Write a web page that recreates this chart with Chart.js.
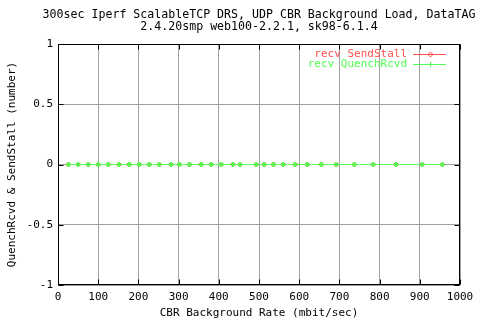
<!DOCTYPE html>
<html lang="en">
<head>
    <meta charset="UTF-8">
    <title>300sec Iperf ScalableTCP DRS - SendStall / QuenchRcvd</title>
    <script src="https://cdn.jsdelivr.net/npm/chart.js"></script>
    <style>
        body { margin: 0; background: #fff; }
        #wrap { width: 480px; height: 320px; }
    </style>
</head>
<body>
    <div id="wrap"><canvas id="myChart" width="480" height="320"></canvas></div>

    <script>
        // CBR background rate (mbit/sec) for each run
        const rates = [26, 50, 75, 100, 125, 152, 177, 202, 227, 252, 281, 302, 327, 356, 381, 406,
                       435, 453, 493, 513, 536, 560, 590, 620, 655, 692, 737, 784, 841, 906, 956];
        const sendStall = [0, 0, 0, 0, 0, 0, 0, 0, 0, 0, 0, 0, 0, 0, 0, 0,
                           0, 0, 0, 0, 0, 0, 0, 0, 0, 0, 0, 0, 0, 0, 0];
        const quenchRcvd = [0, 0, 0, 0, 0, 0, 0, 0, 0, 0, 0, 0, 0, 0, 0, 0,
                            0, 0, 0, 0, 0, 0, 0, 0, 0, 0, 0, 0, 0, 0, 0];
        const xTicks = [0, 100, 200, 300, 400, 500, 600, 700, 800, 900, 1000];
        const yTicks = [-1, -0.5, 0, 0.5, 1];

        const titleLines = ['300sec Iperf ScalableTCP DRS, UDP CBR Background Load, DataTAG',
                            '2.4.20smp web100-2.2.1, sk98-6.1.4'];

        const FONT = "'DejaVu Sans Mono', 'Liberation Mono', monospace";
        const RED = '#ff5050';
        const GREEN = '#50ff50';

        const toPoints = (xs, ys) => xs.map((x, i) => ({ x: x, y: ys[i] }));

        // gnuplot style: title over the plot, frame all round, inward ticks, legend top right
        const gnuplotFrame = {
            id: 'gnuplotFrame',
            afterDraw(chart) {
                const c = chart.ctx;
                const a = chart.chartArea;
                const L = Math.round(a.left) + 0.5, R = Math.round(a.right) - 0.5;
                const T = Math.round(a.top) + 0.5, B = Math.round(a.bottom) - 0.5;
                const tl = 5;
                c.save();

                c.fillStyle = '#000';
                c.font = '11.6px ' + FONT;
                c.textAlign = 'center';
                c.textBaseline = 'middle';
                titleLines.forEach((t, i) => c.fillText(t, (a.left + a.right) / 2, 15 + i * 12));

                c.strokeStyle = '#000';
                c.lineWidth = 1;
                c.strokeRect(L, T, R - L, B - T);
                c.beginPath();
                chart.scales.x.ticks.forEach(t => {
                    const px = Math.round(chart.scales.x.getPixelForValue(t.value)) + 0.5;
                    c.moveTo(px, B); c.lineTo(px, B - tl);
                    c.moveTo(px, T); c.lineTo(px, T + tl);
                });
                chart.scales.y.ticks.forEach(t => {
                    const py = Math.round(chart.scales.y.getPixelForValue(t.value)) + 0.5;
                    c.moveTo(L, py); c.lineTo(L + tl, py);
                    c.moveTo(R, py); c.lineTo(R - tl, py);
                });
                c.stroke();

                // legend
                c.font = '11px ' + FONT;
                c.textAlign = 'right';
                chart.data.datasets.forEach((ds, i) => {
                    const y = Math.round(a.top + 10 + i * 10) + 0.5;
                    const x1 = a.right - 47, x2 = a.right - 14;
                    c.fillStyle = ds.borderColor;
                    c.fillText(ds.label, x1 - 6, y);
                    c.strokeStyle = ds.borderColor;
                    c.beginPath();
                    c.moveTo(x1, y); c.lineTo(x2, y);
                    c.stroke();
                    const mx = Math.round((x1 + x2) / 2) + 0.5;
                    c.beginPath();
                    if (ds.pointStyle === 'cross') {
                        c.moveTo(mx, y - 3); c.lineTo(mx, y + 3);
                    } else {
                        c.moveTo(mx, y - 2.5); c.lineTo(mx + 2.5, y);
                        c.lineTo(mx, y + 2.5); c.lineTo(mx - 2.5, y); c.closePath();
                    }
                    c.stroke();
                });
                c.restore();
            }
        };

        const ctx = document.getElementById('myChart').getContext('2d');
        const myChart = new Chart(ctx, {
            type: 'line',
            data: {
                datasets: [{
                    label: 'recv SendStall',
                    data: toPoints(rates, sendStall),
                    order: 1,
                    borderColor: RED,
                    backgroundColor: 'rgba(0,0,0,0)',
                    borderWidth: 1,
                    pointStyle: 'rectRot',
                    pointRadius: 2.5,
                    pointBorderColor: RED,
                    pointBorderWidth: 1,
                    fill: false,
                    tension: 0
                }, {
                    label: 'recv QuenchRcvd',
                    data: toPoints(rates, quenchRcvd),
                    order: 0,
                    borderColor: GREEN,
                    backgroundColor: 'rgba(0,0,0,0)',
                    borderWidth: 1,
                    pointStyle: 'cross',
                    pointRadius: 2.5,
                    pointBorderColor: GREEN,
                    pointBorderWidth: 2,
                    fill: false,
                    tension: 0
                }]
            },
            options: {
                responsive: false,
                animation: false,
                devicePixelRatio: 1,
                layout: { padding: { left: 0, right: 20, top: 44, bottom: 0 } },
                plugins: {
                    legend: { display: false },
                    tooltip: { enabled: false },
                    title: { display: false }
                },
                scales: {
                    x: {
                        type: 'linear',
                        min: 0,
                        max: 1000,
                        afterBuildTicks: s => { s.ticks = xTicks.map(v => ({ value: v })); },
                        afterFit: s => { s.height = 35; },
                        grid: { color: '#a0a0a0', drawTicks: false },
                        border: { display: false },
                        ticks: { color: '#000', padding: 6, maxRotation: 0,
                                 callback: v => String(v),
                                 font: { family: FONT, size: 11 } },
                        title: { display: true, text: 'CBR Background Rate (mbit/sec)', color: '#000',
                                 font: { family: FONT, size: 11 }, padding: { top: 2, bottom: 0 } }
                    },
                    y: {
                        type: 'linear',
                        min: -1,
                        max: 1,
                        afterBuildTicks: s => { s.ticks = yTicks.map(v => ({ value: v })); },
                        afterFit: s => { s.width = 58; },
                        grid: { color: '#a0a0a0', drawTicks: false },
                        border: { display: false },
                        ticks: { color: '#000', padding: 5,
                                 callback: v => String(v),
                                 font: { family: FONT, size: 11 } },
                        title: { display: true, text: 'QuenchRcvd & SendStall (number)', color: '#000',
                                 font: { family: FONT, size: 11 }, padding: { top: 6, bottom: 0 } }
                    }
                }
            },
            plugins: [gnuplotFrame]
        });
    </script>
</body>
</html>
